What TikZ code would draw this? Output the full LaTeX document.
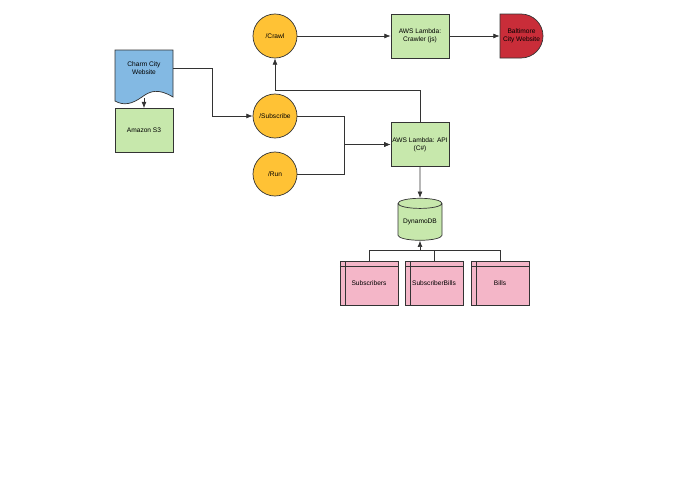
\documentclass[tikz,border=0pt]{standalone}
\usepackage{fontspec}
\setmainfont{Liberation Sans}
\usepackage{xcolor}
\usepackage{tikz}
\usetikzlibrary{arrows.meta, positioning, calc, shapes.geometric}

\definecolor{lgreen}{HTML}{C7E8AC}
\definecolor{lyellow}{HTML}{FFC235}
\definecolor{lblue}{HTML}{83B9E3}
\definecolor{lred}{HTML}{C92D39}
\definecolor{lpink}{HTML}{F4B6C8}
\definecolor{edge}{HTML}{333333}

\begin{document}
\begin{tikzpicture}[
  x=0.025cm, y=-0.025cm,
  font=\fontsize{4.7}{5.8}\selectfont,
  arrow/.style={-{Latex[length=4.5pt, width=3.5pt]}, draw=edge, line width=0.5pt},
  link/.style={draw=edge, line width=0.5pt},
  box/.style={draw=edge, rectangle, minimum width=1.45cm, minimum height=1.1cm, inner xsep=1pt, align=center, fill=lgreen, line width=0.5pt},
  endpoint/.style={draw=edge, circle, minimum size=1.1cm, fill=lyellow, line width=0.5pt, inner sep=0pt},
  table/.style={box, fill=lpink, path picture={
      \draw[edge, line width=0.5pt] ([yshift=-0.13cm]path picture bounding box.north west) -- ([yshift=-0.13cm]path picture bounding box.north east);
      \draw[edge, line width=0.5pt] ([xshift=0.13cm]path picture bounding box.north west) -- ([xshift=0.13cm]path picture bounding box.south west);
  }}
]
  \useasboundingbox (0,0) rectangle (695,494);

  % Source document and storage
  \draw[edge, fill=lblue, line width=0.5pt] (115,50) -- (173,50) -- (173,97)
    .. controls (158,88) and (150,91) .. (142,97)
    .. controls (132,104) and (124,106) .. (115,101) -- cycle;
  \node[minimum width=1.45cm, minimum height=0.9cm, align=center, inner sep=0pt] (charm) at (144,68) {Charm City\\Website};
  \coordinate (charmbot) at (144,98);
  \node[box] (s3) at (144,130.5) {Amazon S3};

  % Endpoints
  \node[endpoint] (crawl) at (275,36) {/Crawl};
  \node[endpoint] (sub) at (275,116) {/Subscribe};
  \node[endpoint] (run) at (275,174) {/Run};

  % Lambdas
  \node[box] (crawler) at (420,36) {AWS Lambda:\\Crawler (js)};
  \node[box] (api) at (420,144.5) {AWS Lambda: API\\(C\#)};

  % Target website
  \draw[edge, fill=lred, line width=0.5pt] (500,14) -- (521,14) arc[start angle=-90, end angle=90, radius=22] -- (500,58) -- cycle;
  \node[minimum width=1.075cm, minimum height=1.1cm, align=center, inner sep=0pt] (balt) at (521.5,36) {Baltimore\\City Website};

  % Database
  \node[cylinder, shape border rotate=90, draw=edge, cylinder uses custom fill, cylinder body fill=lgreen, cylinder end fill=lgreen, minimum width=1.1cm, minimum height=1.05cm, aspect=0.3, inner sep=0pt, line width=0.5pt] (dyn) at (420,222) {DynamoDB};

  % Tables
  \node[table] (tsubs) at (369,283) {Subscribers};
  \node[table] (tsubbills) at (434,283) {SubscriberBills};
  \node[table] (tbills) at (500,283) {Bills};
  \coordinate (bus) at (420,250);

  % Connectors
  \draw[arrow] (charmbot) -- (s3.north);
  \draw[arrow] (charm.east) -- ++(39,0) |- (sub.west);
  \draw[arrow] (crawl.east) -- (crawler.west);
  \draw[arrow] (crawler.east) -- (balt.west);
  \draw[arrow] (sub.east) -- ++(47,0) |- (api.west);
  \draw[arrow] (run.east) -- ++(47,0) |- (api.west);
  \draw[arrow] (api.north) -- ++(0,-32) -| (crawl.south);
  \draw[arrow] (api.south) -- (dyn.north);
  \draw[link] (tsubs.north) |- (bus);
  \draw[link] (tbills.north) |- (bus);
  \draw[link] (tsubbills.north) -- (tsubbills.north |- bus);
  \draw[arrow] (bus) -- (dyn.south);

\end{tikzpicture}
\end{document}
